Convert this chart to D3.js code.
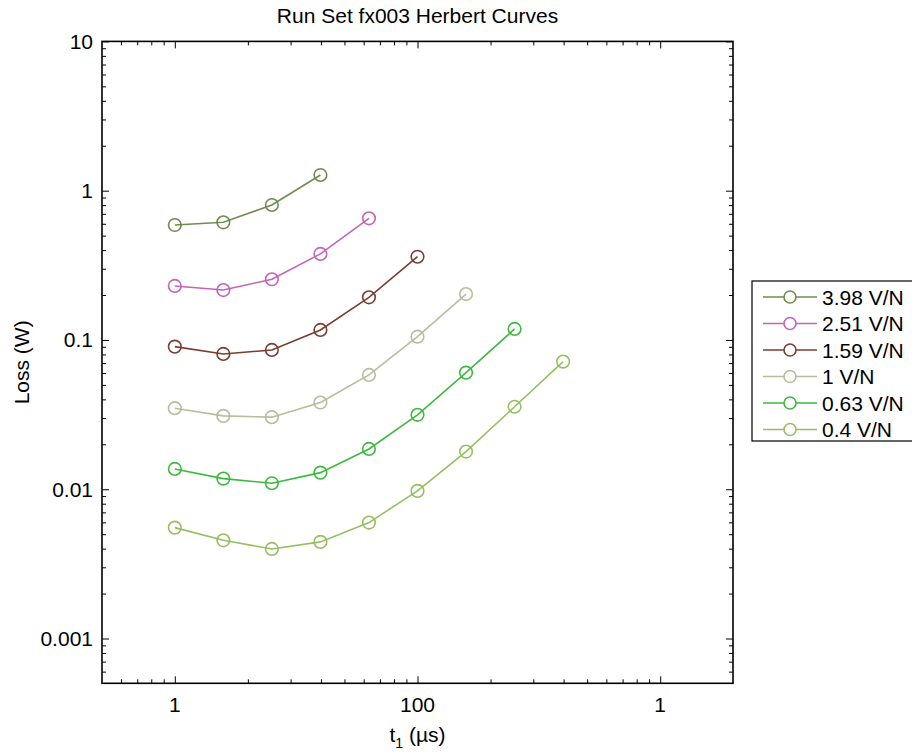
<!DOCTYPE html>
<html>
<head>
<meta charset="utf-8">
<script src="https://cdn.jsdelivr.net/npm/d3@7"></script>
<style>
  body { margin: 0; background: #fff; }
  svg { display: block; font-family: "Liberation Sans", Arial, sans-serif; }
  .axis path { stroke: #000; stroke-width: 1.6; }
  .axis line { stroke: #000; stroke-width: 1; }
</style>
</head>
<body>
<svg width="912" height="752"></svg>
<script>
// pulse durations (us), 0.4 decade apart
var tValues = [1, 2.512, 6.310, 15.85, 39.81, 100, 251.2, 631.0, 1585];

var seriesLabels = ["3.98 V/N", "2.51 V/N", "1.59 V/N", "1 V/N", "0.63 V/N", "0.4 V/N"];
var seriesColors = ["#6f8c52", "#c463b9", "#7a3d31", "#b7bd9d", "#3dba3d", "#97be60"];

var loss398 = [0.589, 0.614, 0.802, 1.274];
var loss251 = [0.230, 0.216, 0.255, 0.377, 0.653];
var loss159 = [0.0902, 0.0806, 0.0857, 0.1167, 0.193, 0.361];
var loss100 = [0.0349, 0.0310, 0.0304, 0.0381, 0.0583, 0.1052, 0.203];
var loss063 = [0.01368, 0.01178, 0.01097, 0.01292, 0.01862, 0.0315, 0.0604, 0.1185];
var loss040 = [0.00553, 0.00455, 0.00398, 0.00444, 0.00598, 0.00975, 0.01787, 0.0357, 0.0716];

var xMajor = [1, 100, 10000];
var xMajorLabels = ["1", "100", "1"];
var yMajor = [0.001, 0.01, 0.1, 1, 10];
var yMajorLabels = ["0.001", "0.01", "0.1", "1", "10"];

var allLoss = [loss398, loss251, loss159, loss100, loss063, loss040];

var svg = d3.select("svg");
var margin = {left: 102, right: 179, top: 41.4, bottom: 68.7};
var width = 912 - margin.left - margin.right;
var height = 752 - margin.top - margin.bottom;

var x = d3.scaleLog().domain([Math.pow(10, -0.6), Math.pow(10, 4.6)]).range([0, width]);
var y = d3.scaleLog().domain([Math.pow(10, -3.3), 10]).range([height, 0]);

var g = svg.append("g").attr("transform", "translate(" + margin.left + "," + margin.top + ")");

// minor ticks: x axis steps two decades at a time, so minor marks sit at k^2
var xMinor = [];
[0.01, 1, 100, 10000].forEach(function(b) {
    for (var k = 2; k <= 9; k++) {
        var v = b * k * k;
        if (v > x.domain()[0] && v < x.domain()[1]) xMinor.push(v);
    }
});
var yMinor = [];
[0.0001, 0.001, 0.01, 0.1, 1].forEach(function(b) {
    for (var k = 2; k <= 9; k++) {
        var v = b * k;
        if (v > y.domain()[0] && v < y.domain()[1]) yMinor.push(v);
    }
});

function drawAxis(axisFn, scale, values, size, transform) {
    var a = g.append("g").attr("class", "axis").attr("transform", transform)
        .call(axisFn(scale).tickValues(values).tickSize(size).tickFormat(""));
    a.select(".domain").remove();
    return a;
}

drawAxis(d3.axisBottom, x, xMinor, -4, "translate(0," + height + ")");
drawAxis(d3.axisBottom, x, xMajor, -7, "translate(0," + height + ")");
drawAxis(d3.axisTop, x, xMinor, -4, "translate(0,0)");
drawAxis(d3.axisTop, x, xMajor, -7, "translate(0,0)");
drawAxis(d3.axisLeft, y, yMinor, -4, "translate(0,0)");
drawAxis(d3.axisLeft, y, yMajor, -7, "translate(0,0)");
drawAxis(d3.axisRight, y, yMinor, -4, "translate(" + width + ",0)");
drawAxis(d3.axisRight, y, yMajor, -7, "translate(" + width + ",0)");

g.append("rect")
    .attr("width", width).attr("height", height)
    .attr("fill", "none").attr("stroke", "#000").attr("stroke-width", 1.6);

// tick labels
g.selectAll(".xlab").data(xMajor).enter().append("text")
    .attr("x", function(d) { return x(d); })
    .attr("y", height + 29)
    .attr("text-anchor", "middle")
    .attr("font-size", 21)
    .text(function(d, i) { return xMajorLabels[i]; });

g.selectAll(".ylab").data(yMajor).enter().append("text")
    .attr("x", -9)
    .attr("y", function(d) { return y(d); })
    .attr("dy", "0.35em")
    .attr("text-anchor", "end")
    .attr("font-size", 21)
    .text(function(d, i) { return yMajorLabels[i]; });

// titles
svg.append("text")
    .attr("x", margin.left + width / 2).attr("y", 23)
    .attr("text-anchor", "middle").attr("font-size", 21)
    .text("Run Set fx003 Herbert Curves");

var xt = svg.append("text")
    .attr("x", margin.left + width / 2).attr("y", 742)
    .attr("text-anchor", "middle").attr("font-size", 21);
xt.append("tspan").text("t");
xt.append("tspan").attr("font-size", 14).attr("dy", 6).text("1");
xt.append("tspan").attr("dy", -6).text(" (\u00b5s)");

svg.append("text")
    .attr("transform", "translate(29," + (margin.top + height / 2) + ") rotate(-90)")
    .attr("text-anchor", "middle").attr("font-size", 21)
    .text("Loss (W)");

// curves
var line = d3.line()
    .x(function(d) { return x(d[0]); })
    .y(function(d) { return y(d[1]); });

allLoss.forEach(function(vals, i) {
    var pts = vals.map(function(v, j) { return [tValues[j], v]; });
    g.append("path").datum(pts)
        .attr("d", line)
        .attr("fill", "none")
        .attr("stroke", seriesColors[i])
        .attr("stroke-width", 1.6);
    g.selectAll(".pt" + i).data(pts).enter().append("circle")
        .attr("cx", function(d) { return x(d[0]); })
        .attr("cy", function(d) { return y(d[1]); })
        .attr("r", 6.3)
        .attr("fill", "none")
        .attr("stroke", seriesColors[i])
        .attr("stroke-width", 1.6);
});

// legend
var leg = svg.append("g").attr("transform", "translate(752,281)");
leg.append("rect")
    .attr("width", 170).attr("height", 160)
    .attr("fill", "#fff").attr("stroke", "#000").attr("stroke-width", 1.2);

seriesLabels.forEach(function(lab, i) {
    var ly = 16 + i * 26.5;
    leg.append("line")
        .attr("x1", 11).attr("x2", 65).attr("y1", ly).attr("y2", ly)
        .attr("stroke", seriesColors[i]).attr("stroke-width", 1.6);
    leg.append("circle")
        .attr("cx", 38).attr("cy", ly).attr("r", 6)
        .attr("fill", "#fff")
        .attr("stroke", seriesColors[i]).attr("stroke-width", 1.6);
    leg.append("text")
        .attr("x", 70).attr("y", ly).attr("dy", "0.36em")
        .attr("font-size", 21)
        .text(lab);
});
</script>
</body>
</html>
